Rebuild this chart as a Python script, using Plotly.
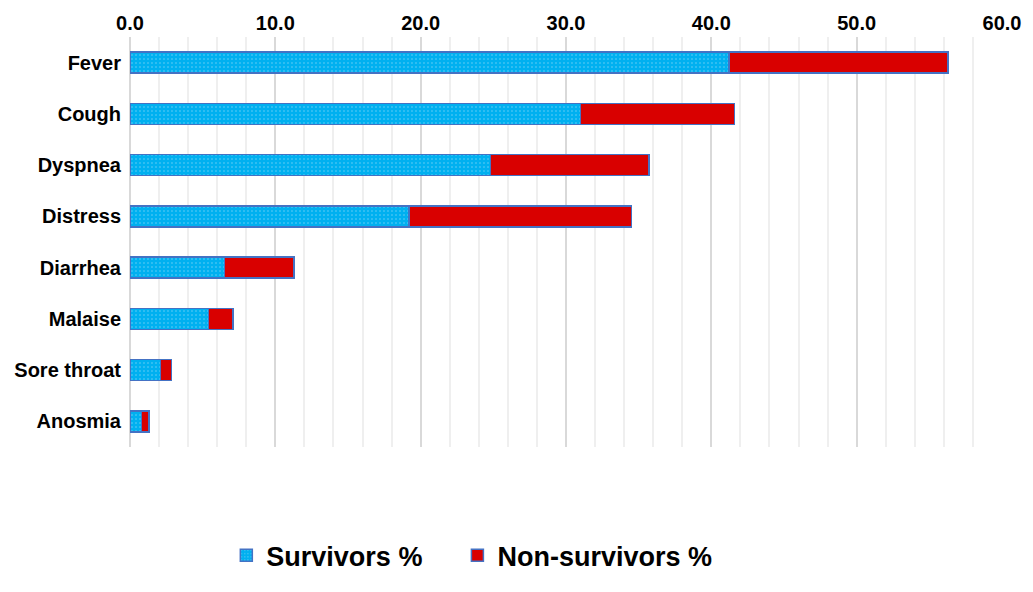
import plotly.graph_objects as go

categories = ["Fever", "Cough", "Dyspnea", "Distress", "Diarrhea", "Malaise", "Sore throat", "Anosmia"]
survivors = [41.2, 31.0, 24.8, 19.2, 6.5, 5.4, 2.1, 0.8]
non_survivors = [15.1, 10.6, 10.9, 15.3, 4.8, 1.7, 0.75, 0.5]
x_ticks = [0, 10, 20, 30, 40, 50, 60]

FONT = "Arial, Liberation Sans, sans-serif"
outline = dict(color="#4472C4", width=1.5)
PAD = "\u00a0" * 4  # extra spacing between legend entries

fig = go.Figure()
fig.add_trace(go.Bar(
    y=categories, x=survivors, orientation="h", name="Survivors %" + PAD,
    marker=dict(color="#00B0F0", line=outline,
                pattern=dict(shape=".", fgcolor="#6FD0F5", bgcolor="#00B0F0",
                             size=4, solidity=0.12, fillmode="replace")),
))
fig.add_trace(go.Bar(
    y=categories, x=non_survivors, orientation="h", name="Non-survivors %",
    marker=dict(color="#D90000", line=outline),
))

fig.update_layout(
    width=1033, height=592,
    barmode="stack", bargap=0.59,
    paper_bgcolor="white", plot_bgcolor="white",
    margin=dict(l=130, r=20, t=37, b=124),
    font=dict(family=FONT, color="black"),
    legend=dict(orientation="h", x=0.392, xanchor="center", y=-0.265, yanchor="middle",
                font=dict(family=FONT, size=27, weight="bold", color="black"),
                itemwidth=30, traceorder="normal"),
    xaxis=dict(side="top", range=[0, 60], tickvals=x_ticks,
               ticktext=[f"{v:.1f}" for v in x_ticks],
               tickfont=dict(family=FONT, size=20, weight="bold", color="black"),
               showgrid=True, gridcolor="#D9D9D9", gridwidth=2,
               minor=dict(dtick=2, showgrid=True, gridcolor="#EFEFEF", gridwidth=1.5),
               zeroline=True, zerolinecolor="#D9D9D9", zerolinewidth=2,
               showline=False, ticks="", ticklabelstandoff=2),
    yaxis=dict(autorange="reversed", type="category",
               tickfont=dict(family=FONT, size=20, weight="bold", color="black"),
               showgrid=False, showline=False, ticks="", ticklabelstandoff=8),
)

fig.write_html("out.html")
